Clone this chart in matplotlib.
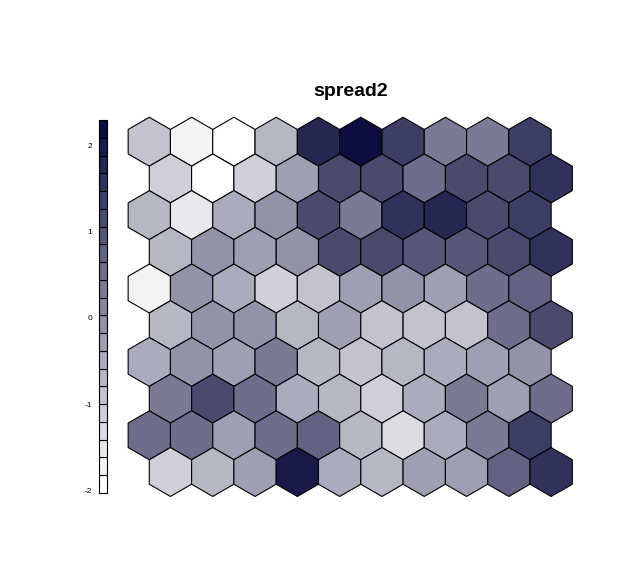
import numpy as np
import matplotlib
matplotlib.use("Agg")
import matplotlib.pyplot as plt
from matplotlib.colors import LinearSegmentedColormap, BoundaryNorm
from matplotlib.patches import RegularPolygon, Rectangle

plt.rcParams['font.family'] = ['Liberation Sans', 'DejaVu Sans']

title = "spread2"

# node values, rows listed from top to bottom, 10 columns each
spread2 = [
    [-0.90, -1.72, -1.93, -0.69,  1.78,  2.19,  1.37,  0.34,  0.34,  1.37],
    [-1.10, -1.93, -1.10, -0.28,  1.16,  1.16,  0.54,  1.16,  1.16,  1.57],
    [-0.69, -1.52, -0.49, -0.07,  1.16,  0.34,  1.57,  1.78,  1.16,  1.37],
    [-0.69, -0.07, -0.28, -0.07,  1.16,  1.16,  0.95,  0.95,  1.16,  1.57],
    [-1.72, -0.07, -0.49, -1.10, -0.90, -0.28, -0.07, -0.28,  0.54,  0.75],
    [-0.69, -0.07, -0.07, -0.69, -0.28, -0.90, -0.90, -0.90,  0.54,  1.16],
    [-0.49, -0.07, -0.28,  0.34, -0.69, -0.90, -0.69, -0.49, -0.28, -0.07],
    [ 0.34,  1.16,  0.54, -0.49, -0.69, -1.10, -0.49,  0.34, -0.28,  0.54],
    [ 0.54,  0.54, -0.28,  0.54,  0.75, -0.69, -1.31, -0.49,  0.34,  1.37],
    [-1.10, -0.69, -0.28,  1.98, -0.49, -0.69, -0.28, -0.28,  0.75,  1.57],
]
zmin, zmax = -2.03, 2.29
n_colors = 21
cbar_ticks = [-2, -1, 0, 1, 2]

vals = np.array(spread2)
nrow, ncol = vals.shape
cmap = LinearSegmentedColormap.from_list("wn", ["#ffffff", "#0d0e3f"], N=n_colors)
bounds = np.linspace(zmin, zmax, n_colors + 1)
norm = BoundaryNorm(bounds, n_colors)

fig = plt.figure(figsize=(6.26, 5.75), dpi=100)
W, H = 626, 575

# hex map
ax = fig.add_axes([0, 0, 1, 1])
ax.axis('off')
dy = np.sqrt(3) / 2
r = 1 / np.sqrt(3)
for i in range(nrow):
    rb = nrow - 1 - i          # row counted from bottom
    xoff = 0.5 if rb % 2 == 0 else 0.0
    for j in range(ncol):
        ax.add_patch(RegularPolygon((j + xoff, rb * dy), 6, radius=r,
                                    facecolor=cmap(norm(vals[i, j])),
                                    edgecolor='black', linewidth=0.8))
sx, sy = 42.3, 36.7 / dy
x0, y0 = 149.3, 472
ax.set_xlim(-x0 / sx, (W - x0) / sx)
ax.set_ylim((y0 - H) / sy, y0 / sy)

ax.text(0.56, 1 - 92 / H, title, transform=fig.transFigure, ha='center',
        va='center', fontsize=14, fontweight='bold')

# colour key
cax = fig.add_axes([99 / W, 1 - 493 / H, 8 / W, 373 / H])
for k in range(n_colors):
    cax.add_patch(Rectangle((0, bounds[k]), 1, bounds[k + 1] - bounds[k],
                            facecolor=cmap(k), edgecolor='black',
                            linewidth=0.8, clip_on=False))
cax.set_xlim(0, 1)
cax.set_ylim(zmin, zmax)
cax.set_xticks([])
cax.set_yticks(cbar_ticks)
cax.set_yticklabels([str(t) for t in cbar_ticks], fontsize=6)
cax.tick_params(axis='y', length=0, pad=5)
for s in cax.spines.values():
    s.set_visible(False)

fig.savefig("out.png", dpi=100)
